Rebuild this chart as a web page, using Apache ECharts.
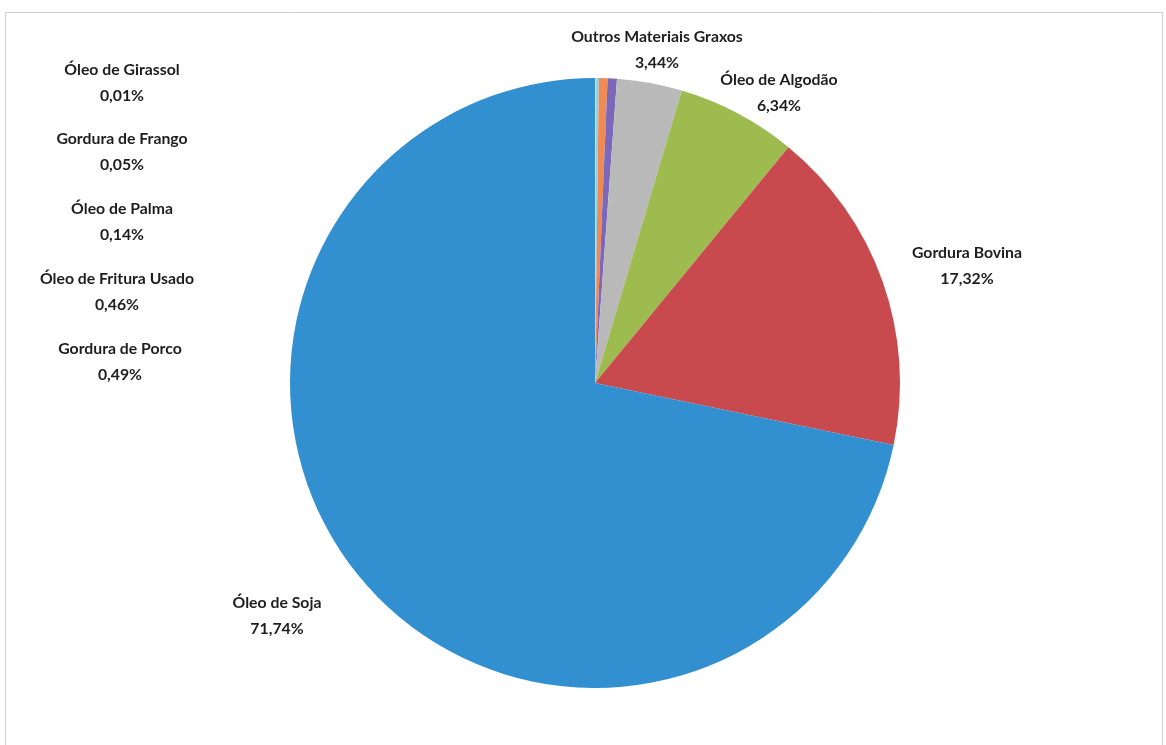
<!DOCTYPE html>
<html>
<head>
<meta charset="utf-8">
<script src="https://cdn.jsdelivr.net/npm/echarts@6/dist/echarts.min.js"></script>
<style>
  html, body { margin: 0; padding: 0; background: #ffffff; }
  #chart { width: 1166px; height: 745px; }
</style>
</head>
<body>
<div id="chart"></div>
<script>
// Matérias-primas usadas na produção de biodiesel (participação em %)
const categories = [
  'Óleo de Girassol',
  'Gordura de Frango',
  'Óleo de Palma',
  'Óleo de Fritura Usado',
  'Gordura de Porco',
  'Outros Materiais Graxos',
  'Óleo de Algodão',
  'Gordura Bovina',
  'Óleo de Soja'
];
const shares = [0.01, 0.05, 0.14, 0.46, 0.49, 3.44, 6.34, 17.32, 71.74];
const sliceColors = ['#6fb7e0', '#d9d9d9', '#8fd0e6', '#f08a55', '#7b68b8', '#b9b9b9', '#9dbb4f', '#c84a4f', '#3290d0'];

// Where each two-line data label is centred (pixels)
const labelAnchors = [
  [122, 83], [122, 152], [122, 222], [117, 292], [120, 362],
  [657, 50], [779, 93], [967, 266], [277, 616]
];

const fmt = v => v.toFixed(2).replace('.', ',') + '%';

const chart = echarts.init(document.getElementById('chart'), null, { renderer: 'canvas' });

chart.setOption({
  backgroundColor: '#ffffff',
  animation: false,
  graphic: [{
    type: 'rect',
    shape: { x: 5.5, y: 12.5, width: 1157, height: 760 },
    style: { fill: 'none', stroke: '#cfcfcf', lineWidth: 1 },
    silent: true
  }],
  series: [{
    type: 'pie',
    center: [595, 383],
    radius: [0, 305],
    startAngle: 90,
    clockwise: true,
    avoidLabelOverlap: false,
    minAngle: 0,
    data: categories.map((name, i) => ({
      name: name,
      value: shares[i],
      itemStyle: { color: sliceColors[i] }
    })),
    itemStyle: { borderWidth: 0 },
    label: {
      show: true,
      position: 'outside',
      formatter: p => p.name + '\n' + fmt(shares[p.dataIndex]),
      fontFamily: 'Lato, "Open Sans", sans-serif',
      fontWeight: 'bold',
      fontSize: 15.8,
      lineHeight: 26,
      color: '#1e1e1e',
      align: 'center'
    },
    labelLine: { show: false },
    labelLayout: p => ({
      x: labelAnchors[p.dataIndex][0],
      y: labelAnchors[p.dataIndex][1],
      align: 'center',
      verticalAlign: 'middle'
    }),
    emphasis: { disabled: true }
  }]
});
</script>
</body>
</html>
